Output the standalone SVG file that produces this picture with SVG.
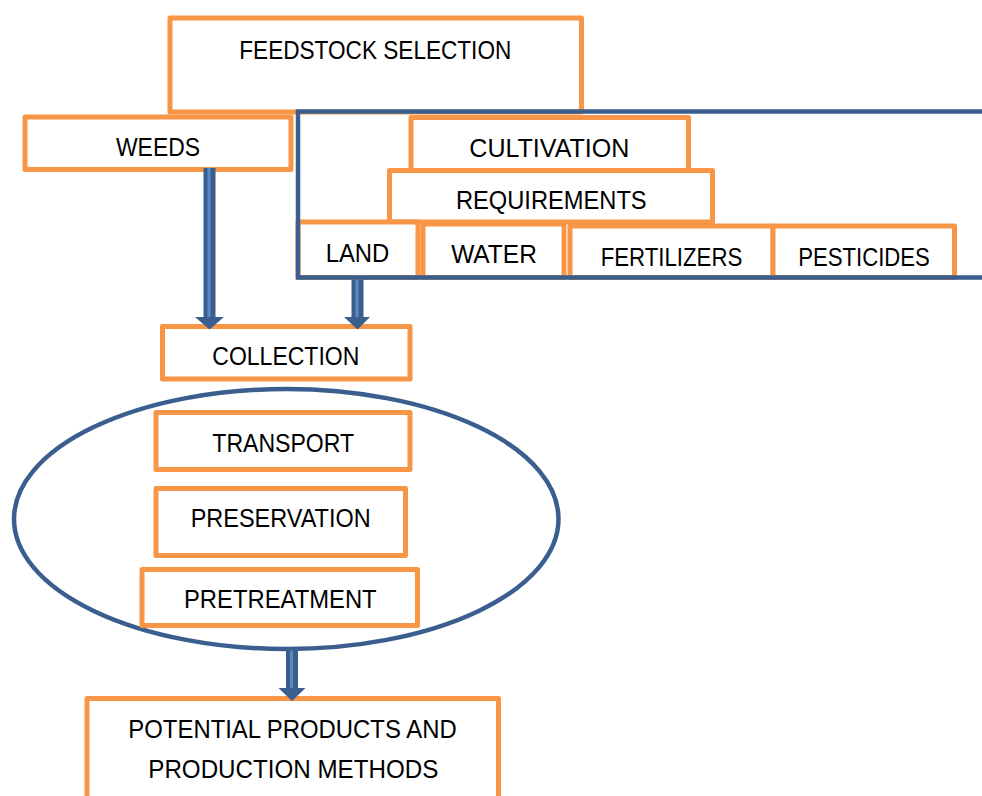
<svg xmlns="http://www.w3.org/2000/svg" width="982" height="796" viewBox="0 0 982 796">
<style>
.box{fill:#fff;stroke:#F79646;stroke-width:5;stroke-linejoin:round}
.frame{fill:none;stroke:#3A5F8E;stroke-width:4.5}
.t{font-family:"Liberation Sans",Arial,sans-serif;font-size:25px;fill:#000;text-anchor:middle}
.shaft{fill:#3A5F8E}
.stripe{fill:#5C88C4}
.head{fill:#3A5F8E}
</style>
<rect width="982" height="796" fill="#fff"/>
<g id="feedstock">
<rect class="box" x="170" y="18" width="411.5" height="94"/>
<text class="t" x="375.3" y="59" textLength="272" lengthAdjust="spacingAndGlyphs">FEEDSTOCK SELECTION</text>
</g>
<g id="weeds">
<rect class="box" x="25" y="117" width="266" height="52.5"/>
<text class="t" x="158" y="156" textLength="84" lengthAdjust="spacingAndGlyphs">WEEDS</text>
</g>
<g id="cultivation">
<rect class="box" x="411" y="117.5" width="277.5" height="53"/>
<text class="t" x="549.3" y="157.3" textLength="160" lengthAdjust="spacingAndGlyphs">CULTIVATION</text>
</g>
<g id="requirements">
<rect class="box" x="389.5" y="170.5" width="323" height="51.5"/>
<text class="t" x="551.3" y="209.3" textLength="190.7" lengthAdjust="spacingAndGlyphs">REQUIREMENTS</text>
</g>
<g id="land">
<rect class="box" x="298" y="222" width="120" height="55.5"/>
<text class="t" x="357.5" y="261.7" textLength="63.7" lengthAdjust="spacingAndGlyphs">LAND</text>
</g>
<g id="water">
<rect class="box" x="423" y="224" width="141" height="53.5"/>
<text class="t" x="494" y="263.3" textLength="85.7" lengthAdjust="spacingAndGlyphs">WATER</text>
</g>
<g id="fertilizers">
<rect class="box" x="570" y="226" width="203" height="51.5"/>
<text class="t" x="671.5" y="265.7" textLength="141.7" lengthAdjust="spacingAndGlyphs">FERTILIZERS</text>
</g>
<g id="pesticides">
<rect class="box" x="773" y="226" width="181.5" height="51.5"/>
<text class="t" x="864" y="265.7" textLength="131.7" lengthAdjust="spacingAndGlyphs">PESTICIDES</text>
</g>
<g id="cultivation-frame">
<path class="frame" d="M984,111.5 H298 V277.5 H984"/>
</g>
<g id="collection">
<rect class="box" x="162.5" y="326.5" width="247.5" height="52.5"/>
<text class="t" x="285.8" y="365" textLength="147" lengthAdjust="spacingAndGlyphs">COLLECTION</text>
</g>
<g id="processing-ellipse">
<ellipse class="frame" cx="286.25" cy="519" rx="272.25" ry="130"/>
</g>
<g id="transport">
<rect class="box" x="156" y="412.5" width="254" height="57"/>
<text class="t" x="283.2" y="451.7" textLength="141.7" lengthAdjust="spacingAndGlyphs">TRANSPORT</text>
</g>
<g id="preservation">
<rect class="box" x="156" y="488.5" width="249.5" height="67"/>
<text class="t" x="280.7" y="527.3" textLength="180" lengthAdjust="spacingAndGlyphs">PRESERVATION</text>
</g>
<g id="pretreatment">
<rect class="box" x="142" y="569.5" width="275.5" height="56"/>
<text class="t" x="280.3" y="608.3" textLength="192.7" lengthAdjust="spacingAndGlyphs">PRETREATMENT</text>
</g>
<g id="potential">
<rect class="box" x="87" y="698.5" width="411.5" height="110"/>
<text class="t" x="292.5" y="738.3" textLength="328.3" lengthAdjust="spacingAndGlyphs">POTENTIAL PRODUCTS AND</text>
<text class="t" x="293.3" y="778.3" textLength="290" lengthAdjust="spacingAndGlyphs">PRODUCTION METHODS</text>
</g>
<g id="connectors">
<rect class="shaft" x="203.5" y="168" width="12" height="150"/>
<rect class="stripe" x="207.5" y="168" width="3" height="150"/>
<polygon class="head" points="195,317 224,317 209.5,329.5"/>
<rect class="shaft" x="351.5" y="279.5" width="12" height="38.5"/>
<rect class="stripe" x="355.5" y="279.5" width="3" height="38.5"/>
<polygon class="head" points="344,317 370,317 357.5,329.5"/>
<rect class="shaft" x="286" y="650.5" width="12" height="38.5"/>
<rect class="stripe" x="290" y="650.5" width="3" height="38.5"/>
<polygon class="head" points="278.5,688 305.5,688 292,701"/>
</g>
</svg>
